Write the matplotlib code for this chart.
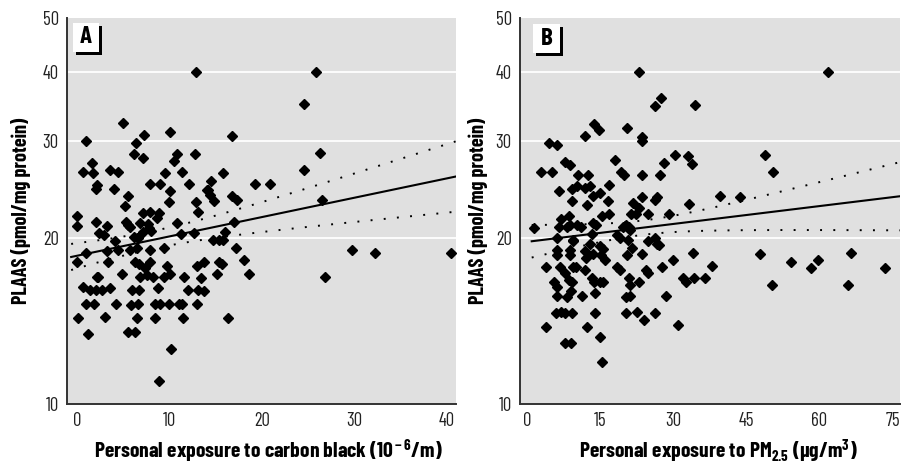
import numpy as np
import matplotlib.pyplot as plt
from matplotlib.patches import Rectangle
from matplotlib.ticker import NullLocator, FixedLocator, FixedFormatter

plt.rcParams['font.family'] = ['Barlow Condensed', 'DejaVu Sans']
plt.rcParams['mathtext.fontset'] = 'custom'
plt.rcParams['mathtext.rm'] = 'Barlow Condensed:bold'
plt.rcParams['mathtext.bf'] = 'Barlow Condensed:bold'
plt.rcParams['mathtext.it'] = 'Barlow Condensed:bold'

# panel A: carbon black exposure vs PLAAS
cb_x = [4.97, 0.97, 7.2, 10.0, 6.4, 6.2, 7.1, 10.8, 12.8, 10.5, 1.6, 0.6, 1.7, 3.6, 4.4, 11.4, 9.5,
        2.2, 2.0, 4.0, 7.9, 9.0, 12.1, 10.0, 5.5, 9.9, 12.9, 5.2, 13.1, 0.0, 0.0, 7.1, 7.9, 8.9, 8.6,
        5.3, 5.5, 5.7, 2.0, 3.2, 6.8, 7.7, 7.8, 8.0, 10.8, 12.6, 11.2, 7.1, 2.4, 2.9, 6.2, 6.6, 4.1,
        12.9, 25.8, 24.5, 26.3, 24.5, 19.2, 20.9, 16.8, 15.8, 16.8, 17.3, 14.0, 14.4, 14.8, 14.5, 17.0,
        16.0, 26.5, 14.2,
        0.0, 1.0, 3.2, 4.4, 3.3, 5.7, 6.5, 7.9, 9.4, 6.3, 6.7, 7.3, 7.9, 4.9, 2.1, 2.3, 6.8, 7.6, 8.2,
        9.7, 10.1, 9.4, 11.6, 13.0, 13.7, 13.4, 0.65, 1.4, 2.0, 2.7, 3.5, 5.9, 6.7, 8.7, 12.0, 13.1,
        13.7, 1.0, 1.8, 4.25, 5.8, 6.6, 8.4, 9.0, 9.9, 11.0, 11.35, 13.0, 0.1, 3.0, 6.5, 8.4, 11.5,
        1.2, 5.5, 6.3, 10.2, 8.9,
        15.1, 15.3, 15.7, 14.7, 15.3, 15.8, 16.3, 17.2, 18.1, 18.6, 26.8, 29.7, 32.2, 40.5]
cb_y = [32.3, 30.0, 30.7, 31.1, 29.7, 28.4, 27.9, 28.4, 28.4, 27.5, 27.3, 26.3, 26.2, 26.5, 26.3, 26.3, 26.2,
        24.9, 24.5, 24.5, 25.0, 25.0, 25.0, 24.3, 23.8, 23.2, 23.2, 22.8, 22.3, 21.9, 21.0, 22.2, 22.3, 22.2, 21.7,
        21.4, 21.1, 20.9, 21.4, 21.0, 21.3, 21.2, 20.8, 20.6, 21.3, 20.4, 20.3, 20.5, 20.4, 20.2, 20.1, 20.0, 19.7,
        40.0, 40.0, 35.0, 28.5, 26.5, 25.0, 25.0, 30.6, 26.2, 23.8, 23.4, 24.4, 23.9, 23.3, 25.3, 21.4,
        20.5, 23.4, 24.4,
        18.1, 18.8, 18.9, 19.0, 18.1, 19.0, 19.2, 19.0, 19.2, 18.1, 17.9, 17.6, 18.1, 17.2, 17.0, 17.0, 17.0, 17.1, 17.0,
        17.8, 17.2, 17.0, 17.0, 17.8, 18.1, 16.9, 16.3, 16.1, 16.1, 16.1, 16.2, 16.1, 16.1, 16.2, 16.1, 16.1,
        16.0, 15.2, 15.2, 15.2, 15.1, 15.2, 15.2, 15.2, 15.2, 15.2, 15.2, 15.2, 14.3, 14.4, 14.3, 14.3, 14.3,
        13.4, 13.5, 13.5, 12.6, 11.0,
        17.2, 18.1, 17.9, 19.8, 19.8, 19.8, 14.3, 19.2, 18.2, 17.2, 17.0, 19.0, 18.8, 18.8]

# panel B: PM2.5 exposure vs PLAAS
pm_x = [27.6, 26.3, 34.4, 13.8, 14.7, 11.9, 20.5, 23.6, 23.6, 4.6, 6.1, 7.9, 8.8, 3.0, 5.1, 18.1, 19.4,
        19.9, 23.6, 27.3, 28.2, 30.3, 33.1, 33.8, 10.4, 12.6, 6.5, 9.2, 10.3, 11.9, 12.9, 15.0, 13.6,
        16.9, 9.2, 12.3, 16.6, 21.8, 23.6, 26.2, 26.6, 33.3, 29.2, 7.1, 8.7, 6.6, 8.3, 8.8, 10.2, 11.2,
        13.6, 14.1, 13.3, 15.4, 16.9, 21.3, 22.3, 23.0, 24.9, 19.7, 20.4, 21.0, 1.5, 18.4, 19.1, 9.5,
        6.2, 26.2, 21.1, 23.0, 61.7, 48.9, 50.4, 39.7, 43.6,
        9.4, 12.9, 15.0, 15.6, 20.8, 24.9, 26.6, 27.1, 6.2, 8.8, 11.9, 13.6, 6.2, 8.8, 12.2, 15.3,
        16.0, 20.6, 21.6, 23.6, 4.0, 6.9, 7.8, 9.5, 10.0, 12.0, 18.4, 19.0, 24.4, 24.9, 27.7, 29.9,
        34.1, 5.6, 6.1, 8.7, 9.2, 9.0, 13.3, 13.7, 15.0, 15.6, 20.9, 21.2, 23.0, 32.0, 32.6, 34.2,
        6.2, 8.3, 11.3, 13.9, 20.3, 21.2, 28.6, 5.9, 7.0, 7.9, 9.3, 13.9, 20.3, 22.5, 26.2, 24.0,
        4.0, 12.4, 30.9, 15.1, 7.8, 9.0, 15.4, 47.7, 54.2, 59.7, 58.2, 66.5, 73.5, 50.2, 65.9,
        37.9, 36.6]
pm_y = [35.8, 34.6, 34.8, 32.2, 31.4, 30.6, 31.6, 30.5, 30.0, 29.7, 29.5, 27.4, 27.1, 26.3, 26.3, 27.7, 26.3,
        26.0, 26.0, 26.0, 27.3, 28.3, 28.1, 27.2, 26.0, 26.0, 24.3, 24.5, 24.8, 24.6, 24.8, 24.1, 23.8,
        24.9, 23.3, 22.9, 23.3, 23.1, 23.7, 23.4, 23.7, 23.0, 22.1, 21.6, 21.9, 20.9, 20.9, 21.1, 21.1, 20.9,
        21.3, 21.1, 20.3, 21.9, 22.1, 22.1, 22.1, 22.6, 22.1, 20.9, 21.1, 20.9, 20.8, 20.2, 20.0, 19.8,
        20.0, 20.0, 20.7, 40.0, 40.0, 28.3, 26.3, 23.8, 23.7,
        19.7, 19.5, 19.3, 19.1, 19.8, 19.7, 19.5, 19.4, 19.0, 19.0, 18.9, 18.7, 18.6, 18.6, 18.4, 18.6,
        18.2, 18.6, 19.2, 18.7, 17.7, 17.7, 17.3, 17.7, 17.7, 17.5, 17.7, 17.5, 17.5, 17.3, 17.7, 18.2,
        18.8, 16.6, 16.3, 16.8, 16.6, 16.0, 16.9, 16.6, 16.6, 16.6, 16.9, 16.4, 16.6, 16.9, 16.6, 16.9,
        15.7, 15.6, 15.7, 15.9, 15.6, 15.7, 15.7, 14.6, 14.7, 14.6, 14.6, 14.6, 14.6, 14.7, 14.6, 14.2,
        13.8, 13.8, 13.9, 13.2, 12.9, 12.9, 11.9, 18.7, 18.1, 18.2, 17.6, 18.8, 17.6, 16.4, 16.4,
        17.8, 16.9]

# regression on log10(PLAAS): intercept, slope, mean x, half-width at mean, slope error
fit_a = [1.2685, 0.0035, 8.5, 0.016, 0.0019]
fit_b = [1.2936, 0.00108, 24.0, 0.013, 0.00115]
span_a = [-0.65, 41.0]
span_b = [1.0, 76.5]

y_ticks = [10, 20, 30, 40, 50]
xticks_a = [0, 10, 20, 30, 40]
xticks_b = [0, 15, 30, 45, 60, 75]

fig = plt.figure(figsize=(9.01, 4.65), dpi=100)
axA = fig.add_axes([67 / 901, 61 / 465, 389 / 901, 386 / 465])
axB = fig.add_axes([520 / 901, 61 / 465, 380 / 901, 386 / 465])


def draw_panel(ax, x, y, fit, span, xlim, xticks, xlabel, tag, tagbox, ylab_x, xlab_x):
    ax.set_facecolor('#e0e0e0')
    ax.set_yscale('log')
    ax.set_ylim(10, 50)
    ax.set_xlim(*xlim)
    ax.yaxis.set_major_locator(FixedLocator(y_ticks))
    ax.yaxis.set_major_formatter(FixedFormatter([str(t) for t in y_ticks]))
    ax.yaxis.set_minor_locator(NullLocator())
    ax.set_xticks(xticks)
    ax.tick_params(length=0, labelsize=13.5, colors='#222222', pad=6)
    for v in y_ticks[1:4]:
        ax.axhline(v, color='white', lw=1.3, zorder=1)
    for s in ['top', 'right']:
        ax.spines[s].set_visible(False)
    for s in ['left', 'bottom']:
        ax.spines[s].set_color('#333333')
        ax.spines[s].set_linewidth(1.4)

    ax.plot(x, y, 'D', color='black', ms=5.5, zorder=3)

    b0, b1, xm, h0, se = fit
    xx = np.linspace(span[0], span[1], 200)
    mid = b0 + b1 * xx
    hw = np.sqrt(h0 ** 2 + (se * (xx - xm)) ** 2)
    ax.plot(xx, 10 ** mid, color='black', lw=1.5, zorder=4)
    ax.plot(xx, 10 ** (mid + hw), color='black', lw=1.4, ls=(0, (1, 5.8)), zorder=4)
    ax.plot(xx, 10 ** (mid - hw), color='black', lw=1.4, ls=(0, (1, 5.8)), zorder=4)

    ax.set_ylabel('PLAAS (pmol/mg protein)', fontsize=14.5, fontweight='bold')
    ax.yaxis.set_label_coords(ylab_x, 0.5)
    ax.set_xlabel(xlabel, fontsize=15.5, fontweight='bold')
    ax.xaxis.set_label_coords(xlab_x, -0.088)

    x0, y0, w, h = tagbox
    ax.add_patch(Rectangle((x0 + 0.007, y0 - 0.008), w, h, transform=ax.transAxes,
                           facecolor='black', edgecolor='none', zorder=5, clip_on=False))
    ax.add_patch(Rectangle((x0, y0), w, h, transform=ax.transAxes,
                           facecolor='white', edgecolor='none', zorder=6, clip_on=False))
    ax.text(x0 + w / 2, y0 + h / 2, tag, transform=ax.transAxes, ha='center', va='center',
            fontsize=18, fontweight='bold', zorder=7)


draw_panel(axA, cb_x, cb_y, fit_a, span_a, (-1.1, 41.0), xticks_a,
           'Personal exposure to carbon black (10$^{\\rm -6}$/m)', 'A',
           (0.015, 0.913, 0.068, 0.075), -0.093, 0.517)
draw_panel(axB, pm_x, pm_y, fit_b, span_b, (-1.4, 76.5), xticks_b,
           'Personal exposure to PM$_{\\rm 2.5}$ (μg/m$^{\\rm 3}$)', 'B',
           (0.035, 0.909, 0.07, 0.075), -0.084, 0.521)

fig.savefig('out.png', dpi=100)
